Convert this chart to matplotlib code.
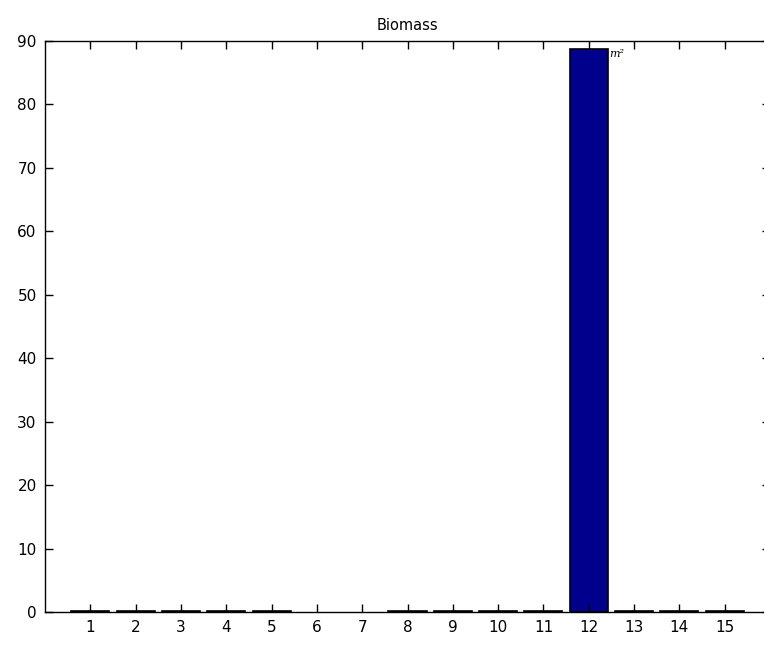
import matplotlib.pyplot as plt

# biomass per class
klassen = list(range(1, 16))
biomassa = [0.2, 0.2, 0.2, 0.2, 0.2, 0.0, 0.0, 0.2, 0.2, 0.2, 0.2, 88.7, 0.2, 0.2, 0.2]
yticks = [0, 10, 20, 30, 40, 50, 60, 70, 80, 90]

fig = plt.figure(figsize=(7.64, 6.47), dpi=100)
ax = fig.add_axes([0.0589, 0.054, 0.949, 0.8826])

# bars of height zero get no edge, like the reference
randen = [1.2 if v > 0 else 0 for v in biomassa]
ax.bar(klassen, biomassa, width=0.84, color='#00008c', edgecolor='black', linewidth=randen)

ax.set_xlim(0, 16)
ax.set_ylim(0, 90)
ax.set_xticks(klassen)
ax.set_yticks(yticks)
ax.tick_params(direction='in', top=True, right=True, length=6, width=1,
               labelsize=11, pad=6)
for s in ax.spines.values():
    s.set_linewidth(1)

ax.text(12.45, 88.7, 'm²', fontsize=8, family='DejaVu Serif', style='italic',
        va='top', ha='left')
ax.set_title('Biomass', fontsize=10.5, pad=8)

plt.savefig('out.png', dpi=100)
plt.close()
